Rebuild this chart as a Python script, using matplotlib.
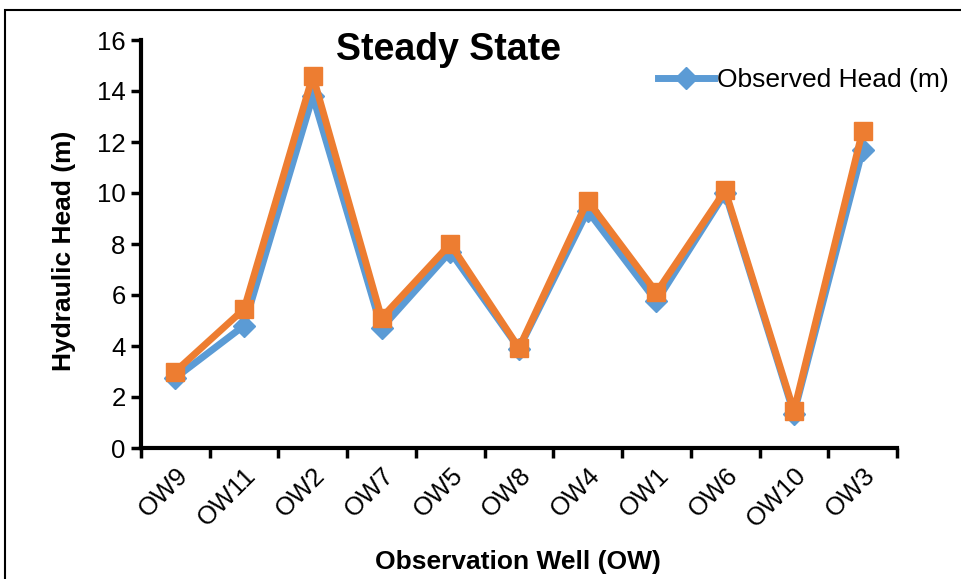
import matplotlib
matplotlib.use("Agg")
import matplotlib.pyplot as plt
from matplotlib.patches import Rectangle

wells = ["OW9", "OW11", "OW2", "OW7", "OW5", "OW8", "OW4", "OW1", "OW6", "OW10", "OW3"]
observed = [2.75, 4.8, 13.8, 4.7, 7.7, 3.9, 9.3, 5.75, 10.0, 1.35, 11.7]
calculated = [3.0, 5.45, 14.6, 5.1, 8.0, 3.92, 9.7, 6.1, 10.1, 1.45, 12.45]
yticks = [0, 2, 4, 6, 8, 10, 12, 14, 16]

plt.rcParams['font.family'] = ['Liberation Sans', 'DejaVu Sans']

fig = plt.figure(figsize=(9.61, 5.79), dpi=100)
ax = fig.add_axes([141/961, 1-448/579, (897-141)/961, (448-40)/579])

x = list(range(len(wells)))
ax.plot(x, observed, color='#5B9BD5', lw=5, marker='D', ms=11, label='Observed Head (m)', zorder=3)
ax.plot(x, calculated, color='#ED7D31', lw=5, marker='s', ms=13.5, zorder=4)

ax.set_xlim(-0.5, len(wells)-0.5)
ax.set_ylim(0, 16)
ax.set_yticks(yticks)
ax.set_xticks([i-0.5 for i in range(len(wells)+1)], minor=False)
ax.set_xticklabels([])
ax.set_xticks(x, minor=True)
ax.set_xticklabels(wells, minor=True, rotation=45, ha='right', rotation_mode='anchor', fontsize=18.5)
ax.tick_params(axis='x', which='minor', length=0, pad=11)
ax.tick_params(axis='x', which='major', length=7, width=2.5, direction='out')
ax.tick_params(axis='y', length=7, width=2.5, direction='out', labelsize=18.5, pad=4)

for s in ['top', 'right']:
    ax.spines[s].set_visible(False)
for s in ['left', 'bottom']:
    ax.spines[s].set_linewidth(3)

fig.text(448/961, 1-50/579, 'Steady State', fontsize=27, fontweight='bold', ha='center', va='center')
fig.text(64/961, 1-251/579, 'Hydraulic Head (m)', fontsize=19, fontweight='bold', ha='center', va='center', rotation=90)
fig.text(518/961, 1-562/579, 'Observation Well (OW)', fontsize=19, fontweight='bold', ha='center', va='center')

leg = fig.legend(handles=[ax.lines[0]], loc='center left', bbox_to_anchor=(645/961, 1-80/579),
                 frameon=False, fontsize=19, handlelength=2.1, handletextpad=0.12, borderpad=0)

fig.patches.append(Rectangle((5/961, -0.1), 1.2, 1-10/579+0.1, transform=fig.transFigure,
                             fill=False, edgecolor='black', lw=1.5, zorder=0))

fig.savefig('out.png', dpi=100)
